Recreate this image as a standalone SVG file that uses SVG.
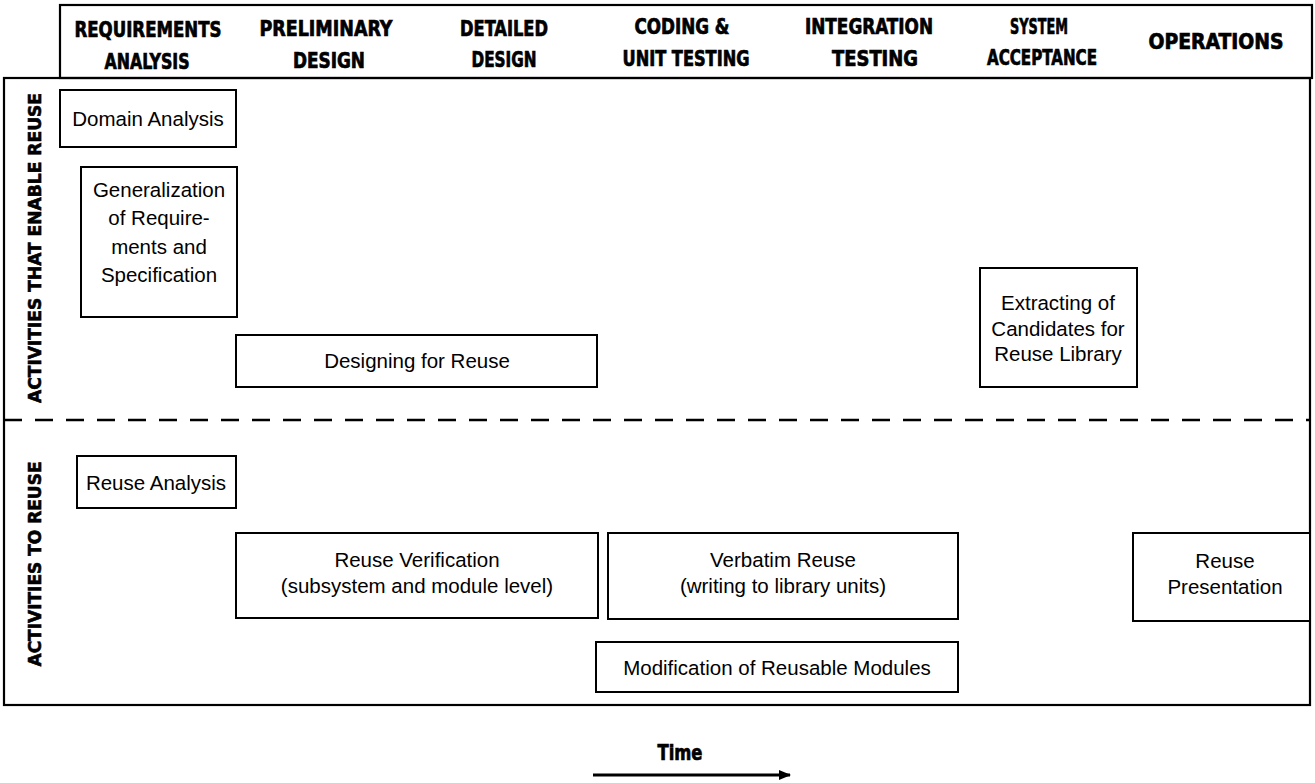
<svg xmlns="http://www.w3.org/2000/svg" width="1315" height="783" viewBox="0 0 1315 783">
<style>
.frame{fill:none;stroke:#000;stroke-width:2.2}
.box{fill:#fff;stroke:#000;stroke-width:2}
.hd{font-family:"Liberation Sans Narrow","DejaVu Sans Condensed","Liberation Sans",sans-serif;font-weight:bold;font-size:22px;fill:#000;stroke:#000;stroke-width:0.7;text-anchor:middle}
.vl{font-family:"Liberation Sans Narrow","DejaVu Sans Condensed","Liberation Sans",sans-serif;font-weight:bold;font-size:18px;fill:#000;stroke:#000;stroke-width:0.6;text-anchor:middle}
.tx{font-family:"Liberation Sans",Arial,sans-serif;font-size:20.5px;fill:#000;text-anchor:middle}
</style>
<defs>
<marker id="arr" markerWidth="12" markerHeight="10" refX="11" refY="5" orient="auto" markerUnits="userSpaceOnUse">
<path d="M0,0 L12,5 L0,10 Z" fill="#000"/>
</marker>
</defs>
<rect width="1315" height="783" fill="#fff"/>
<g id="header">
<rect class="frame" x="60" y="5" width="1252" height="73"/>
<text class="hd" x="148" y="37" textLength="147" lengthAdjust="spacingAndGlyphs">REQUIREMENTS</text>
<text class="hd" x="147" y="69" textLength="85" lengthAdjust="spacingAndGlyphs">ANALYSIS</text>
<text class="hd" x="326" y="36" textLength="133" lengthAdjust="spacingAndGlyphs">PRELIMINARY</text>
<text class="hd" x="329" y="68" textLength="72" lengthAdjust="spacingAndGlyphs">DESIGN</text>
<text class="hd" x="504" y="36" textLength="88" lengthAdjust="spacingAndGlyphs">DETAILED</text>
<text class="hd" x="504" y="67" textLength="65" lengthAdjust="spacingAndGlyphs">DESIGN</text>
<text class="hd" x="682" y="34" textLength="95" lengthAdjust="spacingAndGlyphs">CODING &amp;</text>
<text class="hd" x="686" y="66" textLength="127" lengthAdjust="spacingAndGlyphs">UNIT TESTING</text>
<text class="hd" x="869" y="34" textLength="128" lengthAdjust="spacingAndGlyphs">INTEGRATION</text>
<text class="hd" x="875" y="66" textLength="86" lengthAdjust="spacingAndGlyphs">TESTING</text>
<text class="hd" x="1039" y="34" textLength="58" lengthAdjust="spacingAndGlyphs">SYSTEM</text>
<text class="hd" x="1042" y="65" textLength="110" lengthAdjust="spacingAndGlyphs">ACCEPTANCE</text>
<text class="hd" x="1216" y="49" textLength="135" lengthAdjust="spacingAndGlyphs">OPERATIONS</text>
</g>
<g id="frame">
<rect class="frame" x="4" y="78" width="1306" height="627"/>
<line x1="4" y1="420" x2="1310" y2="420" stroke="#000" stroke-width="2.5" stroke-dasharray="18 13"/>
<text class="vl" transform="translate(41,248) rotate(-90)" textLength="310" lengthAdjust="spacingAndGlyphs">ACTIVITIES THAT ENABLE REUSE</text>
<text class="vl" transform="translate(41,564) rotate(-90)" textLength="205" lengthAdjust="spacingAndGlyphs">ACTIVITIES TO REUSE</text>
</g>
<g id="domain-analysis">
<rect class="box" x="60" y="90" width="176" height="57"/>
<text class="tx" x="148" y="126">Domain Analysis</text>
</g>
<g id="generalization">
<rect class="box" x="81" y="167" width="156" height="150"/>
<text class="tx" x="159" y="197">Generalization</text>
<text class="tx" x="159" y="225">of Require-</text>
<text class="tx" x="159" y="254">ments and</text>
<text class="tx" x="159" y="282">Specification</text>
</g>
<g id="designing-for-reuse">
<rect class="box" x="236" y="335" width="361" height="52"/>
<text class="tx" x="417" y="368">Designing for Reuse</text>
</g>
<g id="extracting">
<rect class="box" x="980" y="268" width="157" height="119"/>
<text class="tx" x="1058" y="310">Extracting of</text>
<text class="tx" x="1058" y="336">Candidates for</text>
<text class="tx" x="1058" y="361">Reuse Library</text>
</g>
<g id="reuse-analysis">
<rect class="box" x="77" y="456" width="159" height="52"/>
<text class="tx" x="156" y="490">Reuse Analysis</text>
</g>
<g id="reuse-verification">
<rect class="box" x="236" y="533" width="362" height="85"/>
<text class="tx" x="417" y="567">Reuse Verification</text>
<text class="tx" x="417" y="593">(subsystem and module level)</text>
</g>
<g id="verbatim-reuse">
<rect class="box" x="608" y="533" width="350" height="86"/>
<text class="tx" x="783" y="567">Verbatim Reuse</text>
<text class="tx" x="783" y="593">(writing to library units)</text>
</g>
<g id="modification">
<rect class="box" x="596" y="642" width="362" height="50"/>
<text class="tx" x="777" y="675">Modification of Reusable Modules</text>
</g>
<g id="reuse-presentation">
<rect class="box" x="1133" y="533" width="177" height="88"/>
<text class="tx" x="1225" y="568">Reuse</text>
<text class="tx" x="1225" y="594">Presentation</text>
</g>
<g id="connectors">
<text class="hd" x="680" y="760" font-size="19" textLength="45" lengthAdjust="spacingAndGlyphs">Time</text>
<line x1="593" y1="775" x2="790" y2="775" stroke="#000" stroke-width="3" marker-end="url(#arr)"/>
</g>
</svg>
